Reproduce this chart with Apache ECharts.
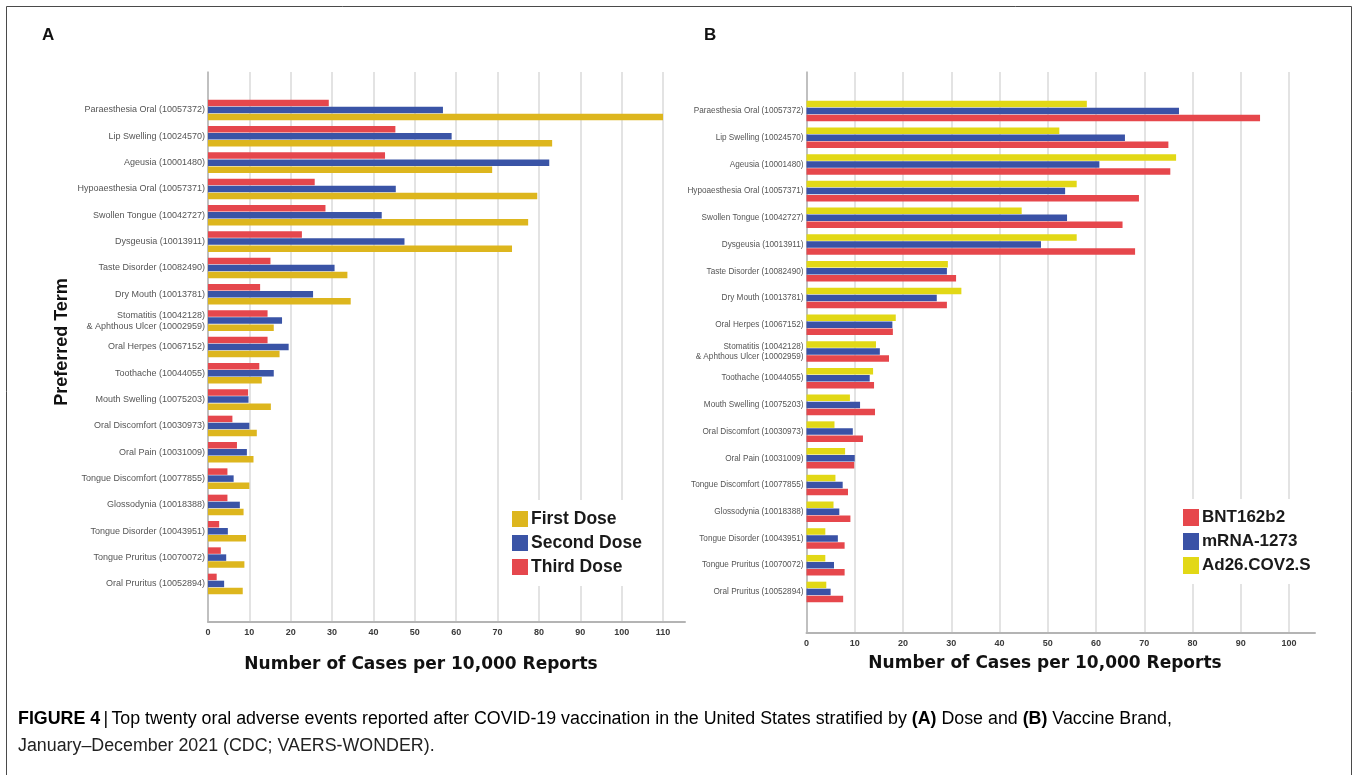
<!DOCTYPE html>
<html>
<head>
<meta charset="utf-8">
<script src="https://cdn.jsdelivr.net/npm/echarts@6/dist/echarts.min.js"></script>
<style>
html,body{margin:0;padding:0;background:#fff;}
#chart{width:1357px;height:775px;}
</style>
</head>
<body>
<div id="chart"></div>
<script>
// ---------- Data ----------
const catsA = [
  'Paraesthesia Oral (10057372)', 'Lip Swelling (10024570)', 'Ageusia (10001480)',
  'Hypoaesthesia Oral (10057371)', 'Swollen Tongue (10042727)', 'Dysgeusia (10013911)',
  'Taste Disorder (10082490)', 'Dry Mouth (10013781)',
  'Stomatitis (10042128)\n& Aphthous Ulcer (10002959)', 'Oral Herpes (10067152)',
  'Toothache (10044055)', 'Mouth Swelling (10075203)', 'Oral Discomfort (10030973)',
  'Oral Pain (10031009)', 'Tongue Discomfort (10077855)', 'Glossodynia (10018388)',
  'Tongue Disorder (10043951)', 'Tongue Pruritus (10070072)', 'Oral Pruritus (10052894)'
];
const firstDose  = [110.2, 83.2, 68.7, 79.6, 77.4, 73.5, 33.7, 34.5, 15.9, 17.3, 13.0, 15.2, 11.8, 11.0, 10.0, 8.6, 9.2, 8.8, 8.4];
const secondDose = [56.8, 58.9, 82.5, 45.4, 42.0, 47.5, 30.6, 25.4, 17.9, 19.5, 15.9, 9.8, 10.0, 9.4, 6.2, 7.7, 4.8, 4.4, 3.9];
const thirdDose  = [29.2, 45.3, 42.8, 25.8, 28.4, 22.7, 15.1, 12.6, 14.4, 14.4, 12.4, 9.7, 5.9, 7.0, 4.7, 4.7, 2.7, 3.1, 2.1];

const catsB = [
  'Paraesthesia Oral (10057372)', 'Lip Swelling (10024570)', 'Ageusia (10001480)',
  'Hypoaesthesia Oral (10057371)', 'Swollen Tongue (10042727)', 'Dysgeusia (10013911)',
  'Taste Disorder (10082490)', 'Dry Mouth (10013781)', 'Oral Herpes (10067152)',
  'Stomatitis (10042128)\n& Aphthous Ulcer (10002959)',
  'Toothache (10044055)', 'Mouth Swelling (10075203)', 'Oral Discomfort (10030973)',
  'Oral Pain (10031009)', 'Tongue Discomfort (10077855)', 'Glossodynia (10018388)',
  'Tongue Disorder (10043951)', 'Tongue Pruritus (10070072)', 'Oral Pruritus (10052894)'
];
const bnt162b2 = [94.0, 75.0, 75.4, 68.9, 65.5, 68.1, 31.0, 29.1, 17.9, 17.1, 14.0, 14.2, 11.7, 9.9, 8.6, 9.1, 7.9, 7.9, 7.6];
const mrna1273 = [77.2, 66.0, 60.7, 53.6, 54.0, 48.6, 29.1, 27.0, 17.8, 15.2, 13.1, 11.1, 9.6, 10.0, 7.5, 6.8, 6.5, 5.7, 5.0];
const ad26     = [58.1, 52.4, 76.6, 56.0, 44.6, 56.0, 29.3, 32.1, 18.5, 14.4, 13.8, 9.0, 5.8, 8.0, 6.0, 5.6, 3.9, 3.9, 4.1];

const ticksA = { min: 0, max: 110, interval: 10 };
const ticksB = { min: 0, max: 100, interval: 10 };

// ---------- Styles ----------
const C = {
  yellowA: '#DDB61E', blueA: '#3A54A6', redA: '#E5474D',
  yellowB: '#E2D816', blueB: '#3A52A6', redB: '#E6474C',
  grid: '#dadada', axis: '#b4b4b4'
};
const FONT = 'Liberation Sans, Arial, sans-serif';
const WIDE = 'DejaVu Sans, Liberation Sans, sans-serif';

const chart = echarts.init(document.getElementById('chart'));

function gridAxis(gi, t) {
  return {
    type: 'value', gridIndex: gi, min: t.min, max: t.max, interval: t.interval,
    axisLine: { show: false }, axisTick: { show: false },
    splitLine: { show: true, lineStyle: { color: C.grid, width: 1.5 } },
    axisLabel: { show: true, margin: 6, fontSize: 9, fontWeight: 'bold', color: '#3a3a3a', fontFamily: FONT }
  };
}
function lineAxisX(gi) {
  return { type: 'value', gridIndex: gi, min: 0, max: 1,
    axisLine: { show: true, lineStyle: { color: C.axis, width: 2 } },
    axisTick: { show: false }, axisLabel: { show: false }, splitLine: { show: false } };
}
function lineAxisY(gi) {
  return { type: 'value', gridIndex: gi, min: 0, max: 1,
    axisLine: { show: true, lineStyle: { color: C.axis, width: 1.5 } },
    axisTick: { show: false }, axisLabel: { show: false }, splitLine: { show: false } };
}
function hiddenAxis(gi, t) {
  return { type: 'value', gridIndex: gi, min: t ? t.min : 0, max: t ? t.max : 1, show: false };
}
function catAxis(gi, cats, fs) {
  return { type: 'category', gridIndex: gi, data: cats, inverse: true,
    axisLine: { show: false }, axisTick: { show: false }, splitLine: { show: false },
    axisLabel: { margin: 3, fontSize: fs, color: '#555', fontFamily: FONT, lineHeight: fs + 2 } };
}
function bar(name, data, color, xi, yi) {
  return { name, type: 'bar', data, xAxisIndex: xi, yAxisIndex: yi,
    barWidth: 6.5, barGap: '8%', itemStyle: { color }, silent: true, animation: false };
}

const option = {
  backgroundColor: '#fff',
  animation: false,
  grid: [
    // Panel A
    { left: 208, top: 72, width: 455, height: 550 },          // 0 gridlines + ticks
    { left: 208, top: 72, width: 477, height: 550 },          // 1 axis lines
    { left: 208, top: 96.8, width: 455, height: 500.3 },      // 2 bars
    // Panel B
    { left: 806.5, top: 72, width: 482.5, height: 561 },      // 3 gridlines + ticks
    { left: 806.5, top: 72, width: 508.5, height: 561 },      // 4 axis lines
    { left: 806.5, top: 97.6, width: 482.5, height: 507.7 }   // 5 bars
  ],
  xAxis: [
    gridAxis(0, ticksA), lineAxisX(1), hiddenAxis(2, ticksA),
    gridAxis(3, ticksB), lineAxisX(4), hiddenAxis(5, ticksB)
  ],
  yAxis: [
    hiddenAxis(0), lineAxisY(1), catAxis(2, catsA, 9),
    hiddenAxis(3), lineAxisY(4), catAxis(5, catsB, 8.2)
  ],
  legend: [
    {
      orient: 'vertical', left: 502, top: 500, padding: [10, 12, 10, 10],
      backgroundColor: '#fff', itemWidth: 16, itemHeight: 16, itemGap: 6,
      icon: 'rect', data: ['First Dose', 'Second Dose', 'Third Dose'],
      textStyle: { fontSize: 17.5, fontWeight: 'bold', color: '#1a1a1a', fontFamily: FONT, padding: [0, 0, 0, -2] },
      selectedMode: false
    },
    {
      orient: 'vertical', left: 1173, top: 499, padding: [10, 10, 10, 10],
      backgroundColor: '#fff', itemWidth: 16, itemHeight: 17, itemGap: 7,
      icon: 'rect', data: ['BNT162b2', 'mRNA-1273', 'Ad26.COV2.S'],
      textStyle: { fontSize: 17, fontWeight: 'bold', color: '#1a1a1a', fontFamily: FONT, padding: [0, 0, 0, -2] },
      selectedMode: false
    }
  ],
  series: [
    bar('Third Dose', thirdDose, C.redA, 2, 2),
    bar('Second Dose', secondDose, C.blueA, 2, 2),
    bar('First Dose', firstDose, C.yellowA, 2, 2),
    bar('Ad26.COV2.S', ad26, C.yellowB, 5, 5),
    bar('mRNA-1273', mrna1273, C.blueB, 5, 5),
    bar('BNT162b2', bnt162b2, C.redB, 5, 5)
  ],
  graphic: [
    { type: 'rect', z: 0, silent: true, shape: { x: 6.5, y: 6.5, width: 1345, height: 800 },
      style: { fill: 'none', stroke: '#4a4a4a', lineWidth: 1 } },
    { type: 'text', left: 42, top: 27, silent: true,
      style: { text: 'A', font: 'bold 17px ' + FONT, fill: '#111' } },
    { type: 'text', left: 704, top: 27, silent: true,
      style: { text: 'B', font: 'bold 17px ' + FONT, fill: '#111' } },
    { type: 'text', x: 62, y: 342, rotation: Math.PI / 2, silent: true,
      style: { text: 'Preferred Term', font: 'bold 18px ' + FONT, fill: '#111', align: 'center', verticalAlign: 'middle' } },
    { type: 'text', x: 421, y: 665, silent: true,
      style: { text: 'Number of Cases per 10,000 Reports', font: 'bold 17px ' + WIDE, fill: '#111', align: 'center', verticalAlign: 'middle' } },
    { type: 'text', x: 1045, y: 664, silent: true,
      style: { text: 'Number of Cases per 10,000 Reports', font: 'bold 17px ' + WIDE, fill: '#111', align: 'center', verticalAlign: 'middle' } },
    { type: 'text', x: 18, y: 719, scaleX: 0.99, silent: true,
      style: {
        text: '{b|FIGURE 4} {s||} {n|Top twenty oral adverse events reported after COVID-19 vaccination in the United States stratified by }{b|(A)}{n| Dose and }{b|(B)}{n| Vaccine Brand,}',
        verticalAlign: 'middle',
        rich: {
          b: { fontFamily: FONT, fontSize: 18, fontWeight: 'bold', color: '#222' },
          n: { fontFamily: FONT, fontSize: 18, color: '#222' },
          s: { fontFamily: FONT, fontSize: 18, color: '#666' }
        }
      } },
    { type: 'text', x: 18, y: 746, scaleX: 0.99, silent: true,
      style: { text: 'January\u2013December 2021 (CDC; VAERS-WONDER).', font: '18px ' + FONT, fill: '#222', verticalAlign: 'middle' } }
  ]
};
chart.setOption(option);
</script>
</body>
</html>
